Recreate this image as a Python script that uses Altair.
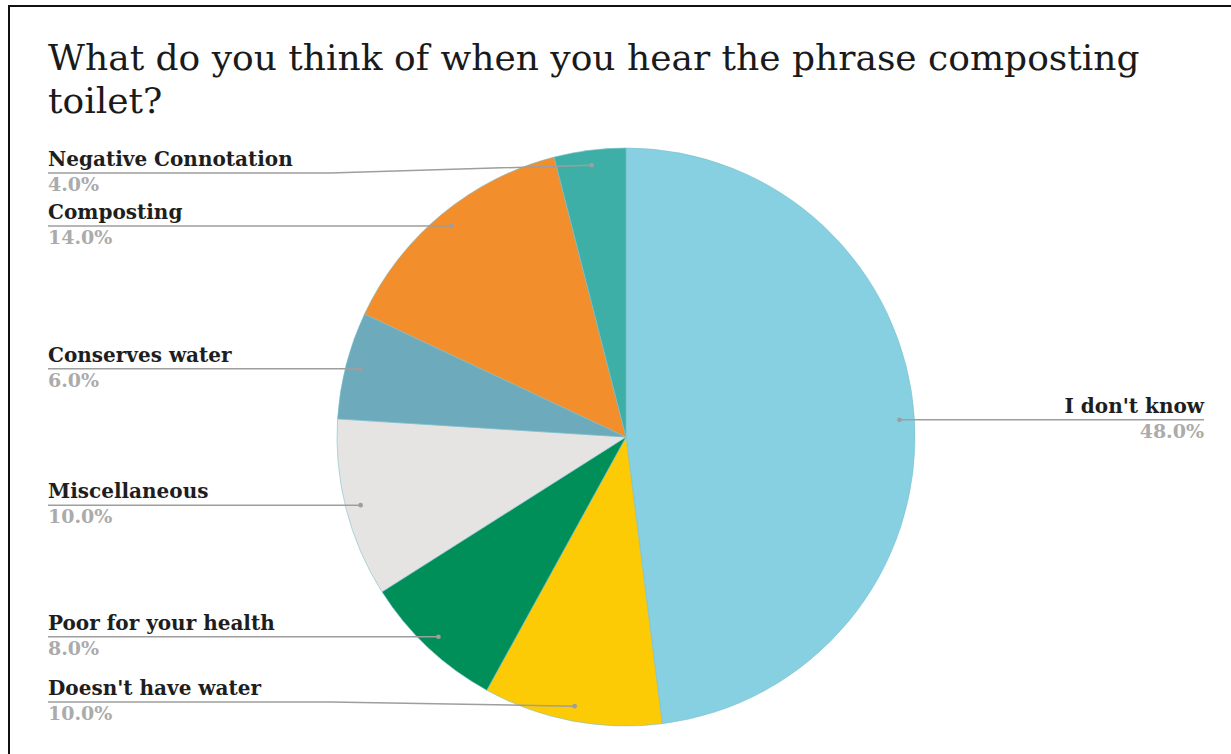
import altair as alt
import pandas as pd
import numpy as np

# ---- data ----
categories = ["I don't know", "Doesn't have water", "Poor for your health",
              "Miscellaneous", "Conserves water", "Composting", "Negative Connotation"]
values = [48.0, 10.0, 8.0, 10.0, 6.0, 14.0, 4.0]
colors = ["#87D0E1", "#FDCB05", "#008F59", "#E6E4E2", "#6DAABB", "#F28E2C", "#3DAFA6"]
title_lines = ["What do you think of when you hear the phrase composting", "toilet?"]

# ---- layout constants ----
W, H = 1231, 754
CX, CY, R = 626, 437, 289
R_LAB = 274
LEFT_X, RIGHT_X = 48, 1204
Y_MIN, Y_MAX = 173, 702
FONT = "DejaVu Serif"

df = pd.DataFrame({"category": categories, "value": values, "order": range(len(values))})
tot = df["value"].sum()
cum = df["value"].cumsum() - df["value"] / 2
ang = cum / tot * 2 * np.pi
df["dx"] = CX + R_LAB * np.sin(ang)
df["dy"] = CY - R_LAB * np.cos(ang)
df["side"] = np.where(df["dx"] > CX, "right", "left")
df["ly"] = df["dy"].clip(Y_MIN, Y_MAX)
df["lx"] = np.where(df["side"] == "right", RIGHT_X, LEFT_X)
df["bx"] = np.where(df["side"] == "right", CX + 310, CX - 296)
df["pct"] = df["value"].map(lambda v: f"{v:.1f}%")
df["name_y"] = df["ly"] - 7
df["pct_y"] = df["ly"] + 18

# line points
rows = []
for _, r in df.iterrows():
    rows.append({"category": r["category"], "i": 0, "x": r["lx"], "y": r["ly"]})
    rows.append({"category": r["category"], "i": 1, "x": r["bx"], "y": r["ly"]})
    rows.append({"category": r["category"], "i": 2, "x": r["dx"], "y": r["dy"]})
lines_df = pd.DataFrame(rows)

xs = alt.Scale(domain=[0, W], range=[0, W], nice=False, zero=False)
ys = alt.Scale(domain=[0, H], range=[0, H], nice=False, zero=False)

pie = alt.Chart(df).mark_arc(radius=R, stroke="#7CC0CF", strokeWidth=0.6).encode(
    theta=alt.Theta("value:Q", stack=True),
    color=alt.Color("category:N", scale=alt.Scale(domain=categories, range=colors), legend=None),
    order=alt.Order("order:Q"),
    x=alt.value(CX), y=alt.value(CY),
)

leader = alt.Chart(lines_df).mark_line(color="#9E9E9E", strokeWidth=1.5).encode(
    x=alt.X("x:Q", scale=xs, axis=None),
    y=alt.Y("y:Q", scale=ys, axis=None),
    detail="category:N",
    order="i:Q",
)

dots = alt.Chart(df).mark_circle(color="#9E9E9E", size=22, opacity=1).encode(
    x=alt.X("dx:Q", scale=xs, axis=None),
    y=alt.Y("dy:Q", scale=ys, axis=None),
)

def labels(side, align):
    sub = df[df["side"] == side]
    names = alt.Chart(sub).mark_text(align=align, baseline="alphabetic", font=FONT,
                                     fontWeight="bold", fontSize=20, color="#1E1E1E").encode(
        x=alt.X("lx:Q", scale=xs, axis=None),
        y=alt.Y("name_y:Q", scale=ys, axis=None),
        text="category:N",
    )
    pcts = alt.Chart(sub).mark_text(align=align, baseline="alphabetic", font=FONT,
                                    fontWeight="bold", fontSize=19, color="#ABABAB").encode(
        x=alt.X("lx:Q", scale=xs, axis=None),
        y=alt.Y("pct_y:Q", scale=ys, axis=None),
        text="pct:N",
    )
    return names + pcts

title_df = pd.DataFrame({"t": title_lines, "x": [LEFT_X, LEFT_X], "y": [70, 113]})
title = alt.Chart(title_df).mark_text(align="left", baseline="alphabetic", font=FONT,
                                      fontSize=36, color="#1A1A1A").encode(
    x=alt.X("x:Q", scale=xs, axis=None),
    y=alt.Y("y:Q", scale=ys, axis=None),
    text="t:N",
)

frame_left = alt.Chart(df.head(1)).mark_rule(color="#111111", strokeWidth=2).encode(
    x=alt.value(9), y=alt.value(5), y2=alt.value(H))
frame_top = alt.Chart(df.head(1)).mark_rule(color="#111111", strokeWidth=2).encode(
    x=alt.value(8), x2=alt.value(W), y=alt.value(6))

chart = alt.layer(
    pie, leader, dots, labels("left", "left"), labels("right", "right"), title,
    frame_left, frame_top,
).properties(
    width=W, height=H, padding=0, autosize=alt.AutoSizeParams(type="none"),
    background="white",
).configure_view(stroke=None)

chart.save("out.html", embed_options={"renderer": "svg", "actions": False})
